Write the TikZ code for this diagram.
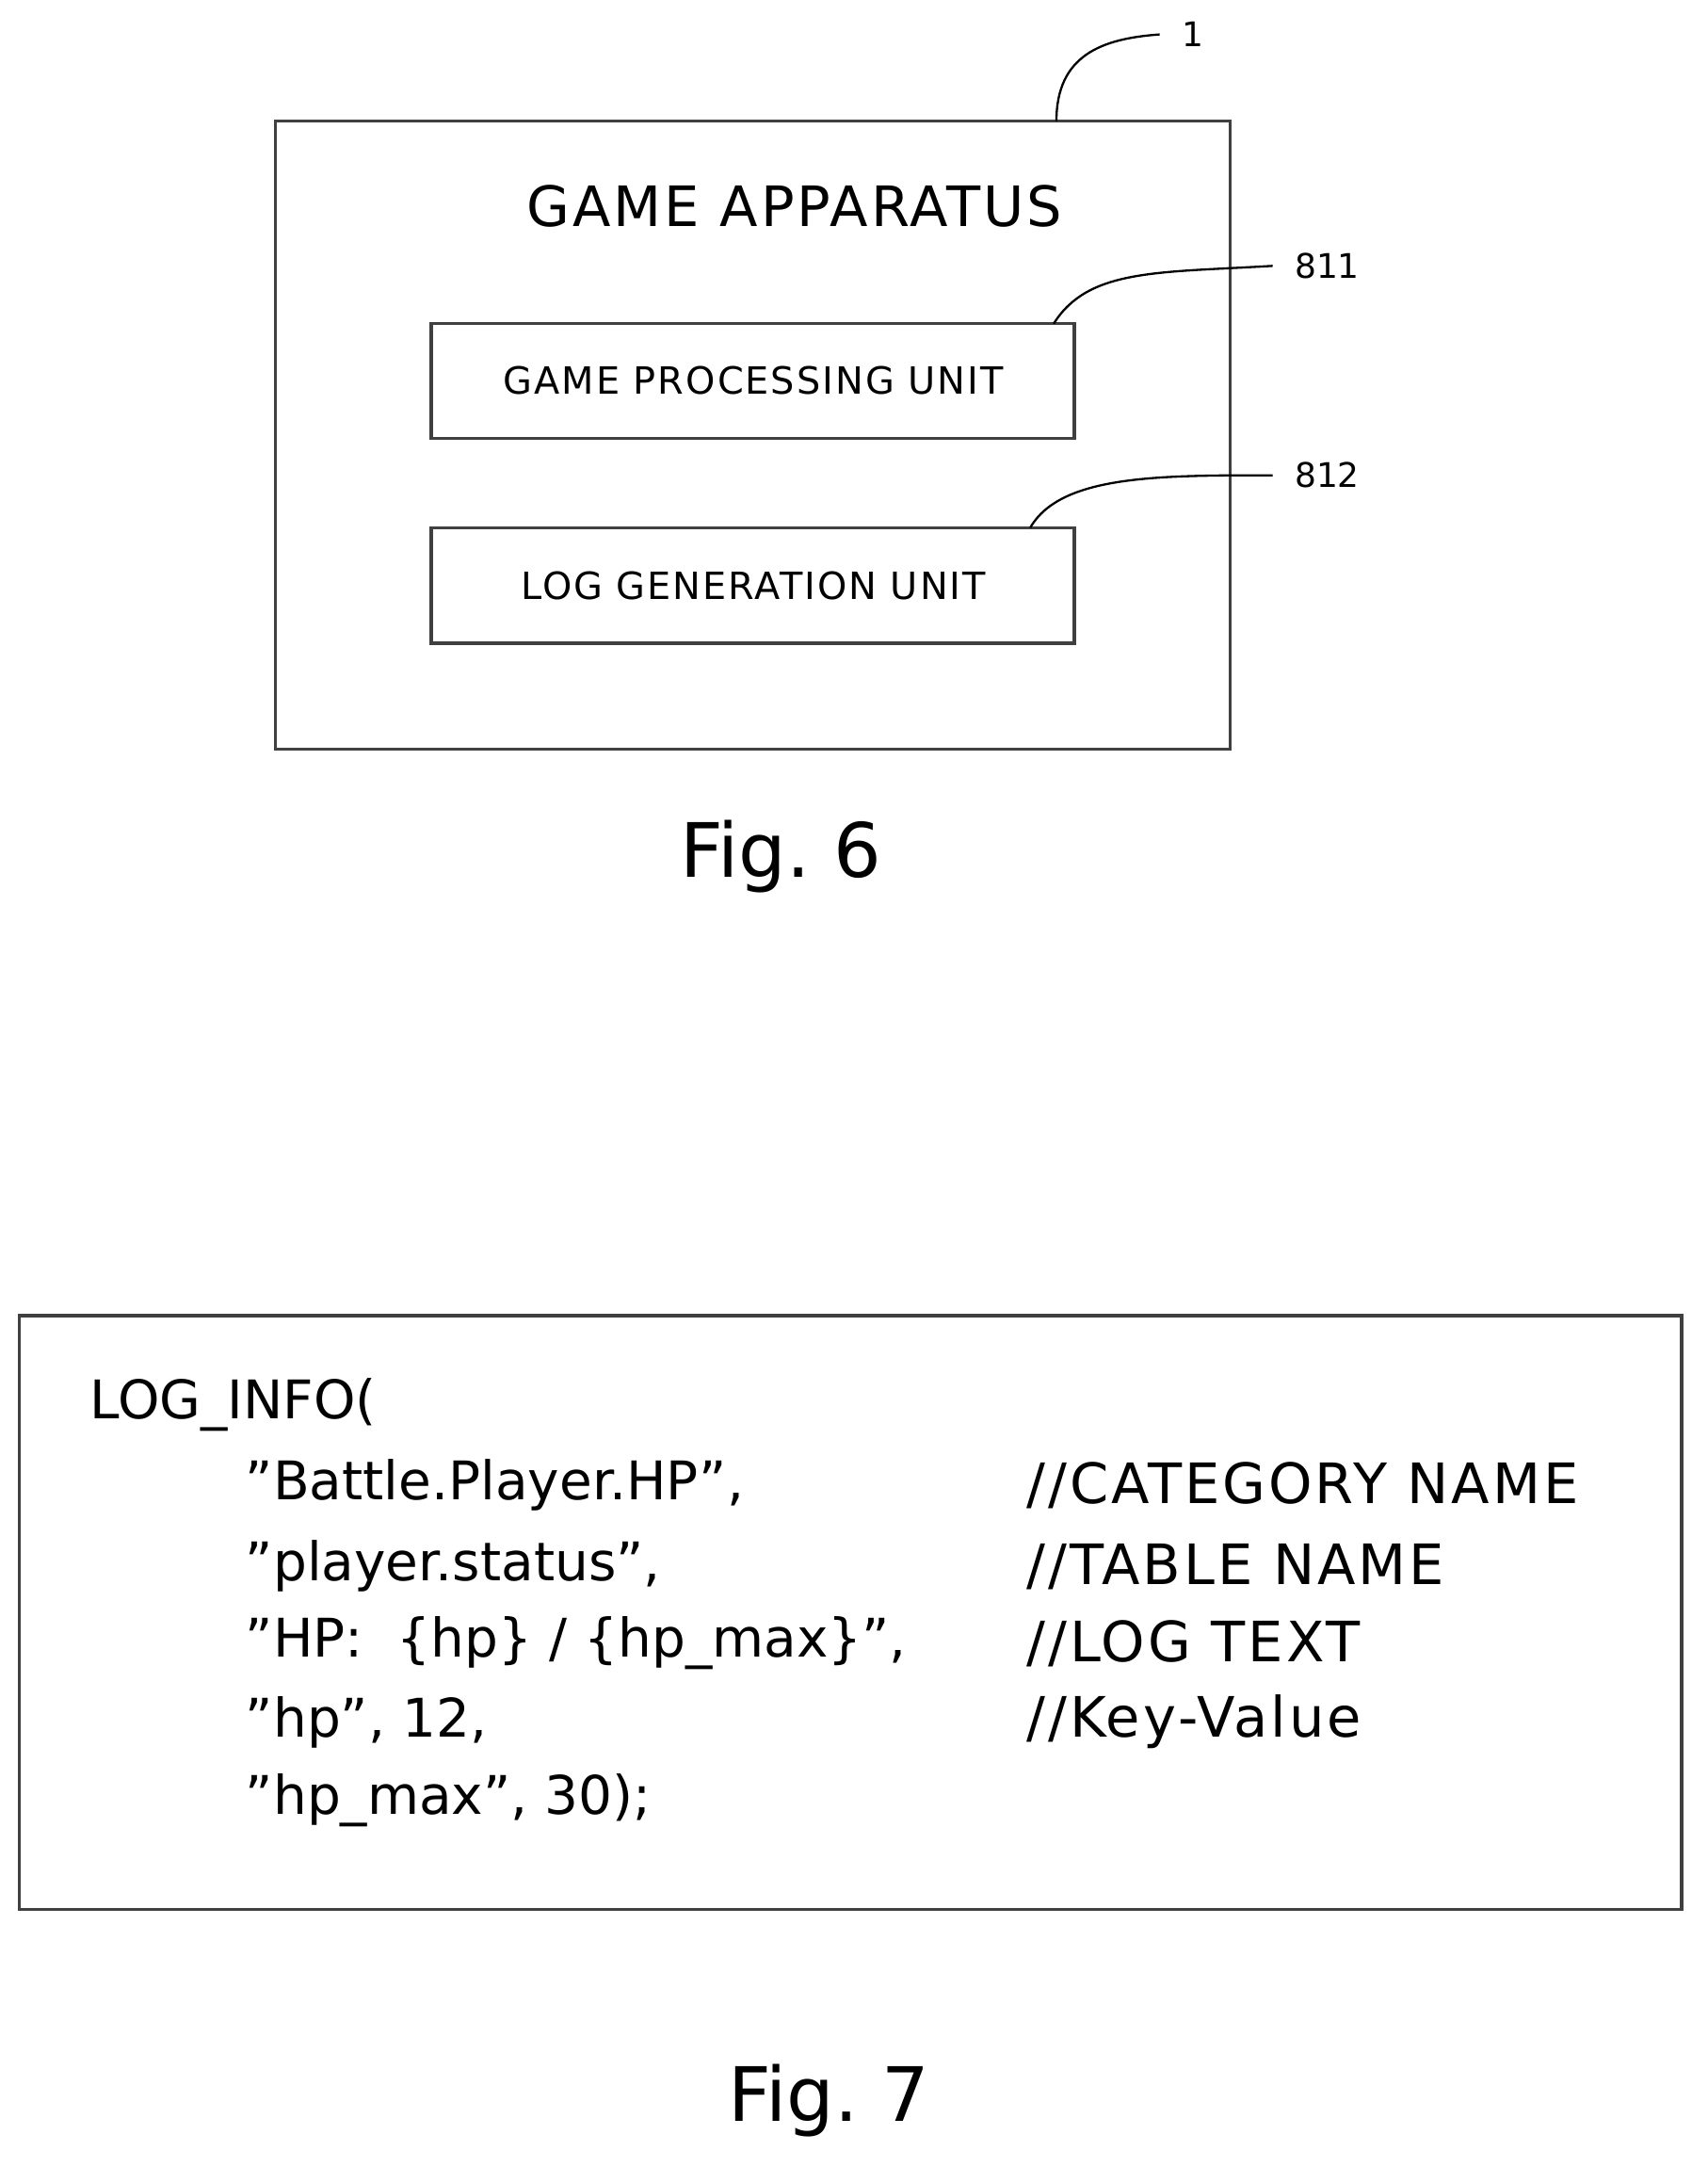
\documentclass[tikz,border=0pt]{standalone}
\usepackage{fontspec}
\setmainfont{DejaVu Sans}
\newfontfamily\wide[LetterSpace=5]{DejaVu Sans}
\begin{document}
\begin{tikzpicture}[x=0.02cm,y=-0.02cm,
  box/.style={draw=black!75,line width=1.3pt},
  lead/.style={draw=black,line width=0.9pt},
  code/.style={anchor=west,inner sep=0pt,font=\fontsize{22}{26}\selectfont},
  cmt/.style={anchor=west,inner sep=0pt,font=\wide\fontsize{23}{26}\selectfont},
  num/.style={inner sep=1pt,font=\fontsize{14}{16}\selectfont}]
\useasboundingbox (0,0) rectangle (1240,1573);
\draw[box] (200,88) rectangle (893,544);
\node[font=\wide\fontsize{23}{26}\selectfont] (ga) at (577,150) {GAME APPARATUS};
\draw[box] (313,235) rectangle (780,318);
\node[font=\wide\fontsize{15.5}{18}\selectfont] (gp) at (547,276) {GAME PROCESSING UNIT};
\draw[box] (313,383) rectangle (780,467);
\node[font=\wide\fontsize{15.5}{18}\selectfont] (lg) at (547,425) {LOG GENERATION UNIT};
\node[num,anchor=west] (n1) at (856,25) {1};
\node[num,anchor=west] (n811) at (938,193) {811};
\node[num,anchor=west] (n812) at (938,345) {812};
\coordinate (c1) at (767,88);
\coordinate (c811) at (765,235);
\coordinate (c812) at (748,383);
\draw[lead] (c1) .. controls (767,40) and (800,28) .. ([xshift=-8]n1.west);
\draw[lead] (c811) .. controls (790,195) and (840,198) .. ([xshift=-8]n811.west);
\draw[lead] (c812) .. controls (770,345) and (840,345) .. ([xshift=-8]n812.west);
\node[font=\fontsize{31}{34}\selectfont] (f6) at (567,622) {Fig.~6};
\draw[box] (14,955) rectangle (1221,1386);
\node[code] (l0) at (65,1020) {LOG\_INFO(};
\node[code] (l1) at (178,1078) {\char"201D Battle.Player.HP\char"201D,};
\node[code] (l2) at (178,1137) {\char"201D player.status\char"201D,};
\node[code] (l3) at (178,1193) {\char"201D HP:~~\{hp\} / \{hp\_max\}\char"201D,};
\node[code] (l4) at (178,1250) {\char"201D hp\char"201D, 12,};
\node[code] (l5) at (178,1307) {\char"201D hp\_max\char"201D, 30);};
\node[cmt] (k1) at (745,1078) {//CATEGORY NAME};
\node[cmt] (k2) at (745,1137) {//TABLE NAME};
\node[cmt] (k3) at (745,1193) {//LOG TEXT};
\node[cmt] (k4) at (745,1250) {//Key-Value};
\node[font=\fontsize{31}{34}\selectfont] (f7) at (602,1525) {Fig.~7};
\end{tikzpicture}
\end{document}
